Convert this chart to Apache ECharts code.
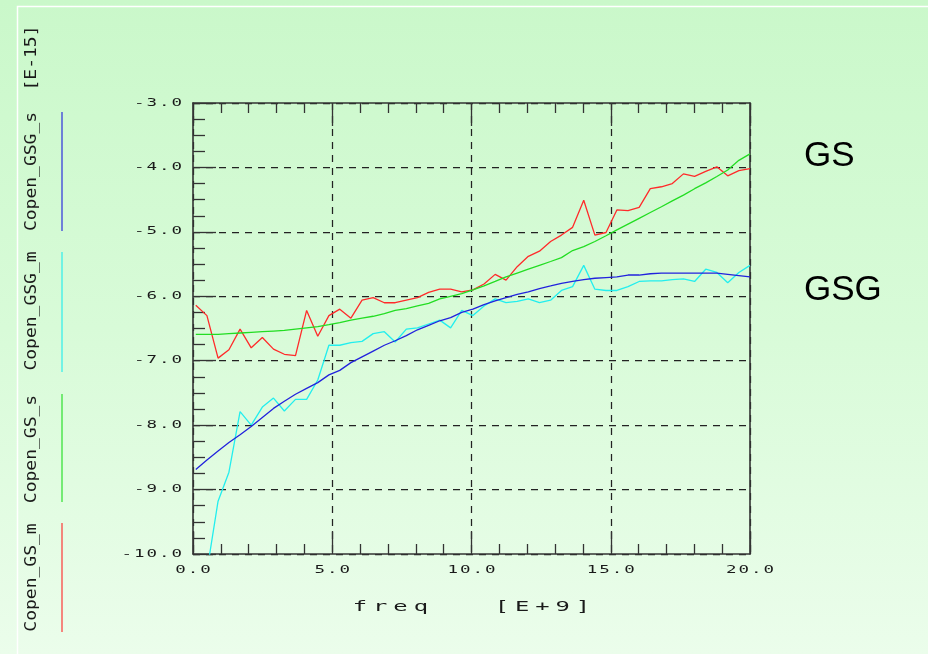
<!DOCTYPE html>
<html>
<head>
<meta charset="utf-8">
<script src="https://cdn.jsdelivr.net/npm/echarts@6/dist/echarts.min.js"></script>
<style>
  html, body { margin: 0; padding: 0; }
  #chart { width: 928px; height: 654px; background: linear-gradient(to bottom, #caf8ca 0%, #d8fbd8 50%, #ebfdeb 100%); }
</style>
</head>
<body>
<div id="chart"></div>
<script>
// ---------- data ----------
const freq = [0.10, 0.50, 0.90, 1.29, 1.69, 2.09, 2.49, 2.89, 3.28, 3.68,
  4.08, 4.48, 4.88, 5.27, 5.67, 6.07, 6.47, 6.87, 7.26, 7.66,
  8.06, 8.46, 8.86, 9.25, 9.65, 10.05, 10.45, 10.85, 11.24, 11.64,
  12.04, 12.44, 12.84, 13.23, 13.63, 14.03, 14.43, 14.83, 15.22, 15.62,
  16.02, 16.42, 16.82, 17.21, 17.61, 18.01, 18.41, 18.81, 19.20, 19.60, 20.00];

const copenGSm = [-6.14, -6.30, -6.96, -6.83, -6.51, -6.80, -6.64, -6.82, -6.90, -6.92,
  -6.22, -6.62, -6.30, -6.20, -6.34, -6.06, -6.02, -6.10, -6.10, -6.06,
  -6.02, -5.94, -5.89, -5.89, -5.93, -5.90, -5.81, -5.66, -5.75, -5.54,
  -5.38, -5.30, -5.15, -5.05, -4.93, -4.51, -5.05, -5.01, -4.66, -4.67,
  -4.62, -4.33, -4.30, -4.25, -4.10, -4.14, -4.06, -3.99, -4.13, -4.05, -4.02];

const copenGSs = [-6.59, -6.59, -6.59, -6.58, -6.57, -6.56, -6.55, -6.54, -6.53, -6.51,
  -6.49, -6.47, -6.44, -6.41, -6.37, -6.34, -6.31, -6.27, -6.22, -6.19,
  -6.15, -6.11, -6.04, -6.00, -5.96, -5.90, -5.84, -5.77, -5.70, -5.64,
  -5.58, -5.52, -5.46, -5.40, -5.29, -5.23, -5.15, -5.06, -4.97, -4.88,
  -4.79, -4.70, -4.61, -4.52, -4.43, -4.33, -4.24, -4.14, -4.04, -3.89, -3.79];

const copenGSGm = [-11.60, -10.27, -9.18, -8.73, -7.79, -8.00, -7.72, -7.58, -7.78, -7.60,
  -7.60, -7.30, -6.76, -6.76, -6.72, -6.70, -6.58, -6.55, -6.71, -6.51,
  -6.49, -6.43, -6.37, -6.49, -6.22, -6.30, -6.15, -6.04, -6.10, -6.08,
  -6.04, -6.10, -6.06, -5.91, -5.85, -5.52, -5.89, -5.91, -5.91, -5.85,
  -5.77, -5.76, -5.76, -5.74, -5.73, -5.77, -5.58, -5.63, -5.79, -5.63, -5.52];

const copenGSGs = [-8.69, -8.54, -8.40, -8.27, -8.15, -8.02, -7.88, -7.74, -7.63, -7.52,
  -7.43, -7.34, -7.22, -7.15, -7.03, -6.94, -6.85, -6.76, -6.69, -6.61,
  -6.52, -6.45, -6.38, -6.33, -6.25, -6.20, -6.13, -6.07, -6.02, -5.97,
  -5.93, -5.88, -5.84, -5.80, -5.77, -5.74, -5.72, -5.71, -5.70, -5.67,
  -5.67, -5.65, -5.64, -5.64, -5.64, -5.64, -5.64, -5.64, -5.66, -5.68, -5.70];

const seriesNames = ['Copen_GS_m', 'Copen_GS_s', 'Copen_GSG_m', 'Copen_GSG_s'];
const seriesColors = ['#ff2a2a', '#22dd22', '#22eeee', '#2222dd'];
const xAxisName = 'freq   [E+9]';
const yUnitLabel = '[E-15]';
const sideLabels = ['GS', 'GSG'];
const xMin = 0, xMax = 20, xInterval = 5;
const yMin = -10, yMax = -3, yInterval = 1;

// ---------- plotter-style wide text (horizontal stretch for the mono font) ----------
const STRETCH = { '10': { sx: 1.75, ls: 1.1 }, '14': { sx: 1.7, ls: 3.5 }, '15': { sx: 1.2, ls: 0 } };
(function () {
  const proto = CanvasRenderingContext2D.prototype;
  const orig = proto.fillText;
  proto.fillText = function (text, x, y, maxW) {
    const f = this.font || '';
    if (f.indexOf('DejaVu Sans Mono') >= 0) {
      const m = /(\d+(?:\.\d+)?)px/.exec(f);
      const cfg = m && STRETCH[String(Math.round(parseFloat(m[1])))];
      if (cfg) {
        this.save();
        this.translate(x, y);
        this.scale(cfg.sx, 1);
        let dx = 0;
        if (cfg.ls) {
          try { this.letterSpacing = cfg.ls + 'px'; } catch (e) {}
          const a = this.textAlign;
          if (a === 'right' || a === 'end') dx = cfg.ls;
          else if (a === 'center') dx = cfg.ls / 2;
        }
        orig.call(this, text, dx, 0);
        this.restore();
        return;
      }
    }
    return maxW === undefined ? orig.call(this, text, x, y) : orig.call(this, text, x, y, maxW);
  };
})();

const AX = '#333333';
const axisLineStyle = { color: AX, width: 1.6 };
const tickStyle = { color: AX, width: 1.3 };
const gridStyle = { color: '#222222', width: 1.25, type: [7, 6] };
const labelFont = { fontFamily: 'DejaVu Sans Mono', fontSize: 10, color: '#1a1a1a' };

const chart = echarts.init(document.getElementById('chart'), null, { renderer: 'canvas' });

const series = [copenGSm, copenGSs, copenGSGm, copenGSGs].map((vals, i) => ({
  name: seriesNames[i],
  type: 'line',
  xAxisIndex: 0,
  yAxisIndex: 0,
  data: freq.map((f, j) => [f, vals[j]]),
  showSymbol: false,
  symbol: 'none',
  clip: true,
  animation: false,
  lineStyle: { color: seriesColors[i], width: 1.3 },
  itemStyle: { color: seriesColors[i] },
  z: 3 + i
}));

// legend (vertical, rotated) drawn as graphic texts + colour strokes
const legendPos = [
  { c: 577.5, y1: 523, y2: 632 },
  { c: 449, y1: 394, y2: 502 },
  { c: 311, y1: 252, y2: 372 },
  { c: 171.5, y1: 112, y2: 231 }
];
const graphics = [
  { type: 'rect', left: 15, top: 4, z: 0, silent: true,
    shape: { x: 0.5, y: 0.5, width: 1000, height: 1000 },
    style: { fill: 'none', stroke: '#ffffff', lineWidth: 1.5 } },
  { type: 'text', x: 32, y: 58, rotation: Math.PI / 2, z: 10,
    style: { text: yUnitLabel, fontFamily: 'DejaVu Sans Mono', fontSize: 15, fill: '#1a1a1a', textAlign: 'center', textVerticalAlign: 'middle' } }
];
legendPos.forEach((p, i) => {
  graphics.push({ type: 'text', x: 32, y: p.c, rotation: Math.PI / 2, z: 10,
    style: { text: seriesNames[i], fontFamily: 'DejaVu Sans Mono', fontSize: 15, fill: '#1a1a1a', textAlign: 'center', textVerticalAlign: 'middle' } });
  graphics.push({ type: 'line', z: 10, silent: true,
    shape: { x1: 62, y1: p.y1, x2: 62, y2: p.y2 },
    style: { stroke: seriesColors[i], lineWidth: 1.5, opacity: 0.75 } });
});
graphics.push({ type: 'text', x: 804, y: 156, z: 10,
  style: { text: sideLabels[0], fontFamily: 'Liberation Sans', fontSize: 35, fill: '#000', textAlign: 'left', textVerticalAlign: 'middle' } });
graphics.push({ type: 'text', x: 804, y: 290, z: 10,
  style: { text: sideLabels[1], fontFamily: 'Liberation Sans', fontSize: 35, fill: '#000', textAlign: 'left', textVerticalAlign: 'middle' } });

chart.setOption({
  backgroundColor: 'transparent',
  animation: false,
  grid: { left: 193, right: 178, top: 103, bottom: 100, containLabel: false },
  xAxis: [
    {
      type: 'value', position: 'bottom', min: xMin, max: xMax, interval: xInterval,
      axisLine: { show: true, onZero: false, lineStyle: axisLineStyle },
      axisTick: { show: true, inside: true, length: 23, lineStyle: tickStyle },
      minorTick: { show: true, splitNumber: 5, length: 10, lineStyle: tickStyle },
      splitLine: { show: true, lineStyle: gridStyle },
      axisLabel: Object.assign({ margin: 11, formatter: v => v.toFixed(1) }, labelFont),
      name: xAxisName, nameLocation: 'middle', nameGap: 46,
      nameTextStyle: { fontFamily: 'DejaVu Sans Mono', fontSize: 14, color: '#1a1a1a' }
    },
    {
      type: 'value', position: 'top', min: xMin, max: xMax, interval: xInterval,
      axisLine: { show: true, onZero: false, lineStyle: axisLineStyle },
      axisTick: { show: true, inside: true, length: 23, lineStyle: tickStyle },
      minorTick: { show: true, splitNumber: 5, length: 10, lineStyle: tickStyle },
      splitLine: { show: false },
      axisLabel: { show: false }
    }
  ],
  yAxis: [
    {
      type: 'value', position: 'left', min: yMin, max: yMax, interval: yInterval,
      axisLine: { show: true, onZero: false, lineStyle: axisLineStyle },
      axisTick: { show: true, inside: true, length: 23, lineStyle: tickStyle },
      minorTick: { show: true, splitNumber: 4, length: 12, lineStyle: tickStyle },
      splitLine: { show: true, lineStyle: gridStyle },
      axisLabel: Object.assign({ margin: 11, formatter: v => v.toFixed(1) }, labelFont)
    },
    {
      type: 'value', position: 'right', min: yMin, max: yMax, interval: yInterval,
      axisLine: { show: true, onZero: false, lineStyle: axisLineStyle },
      axisTick: { show: false },
      splitLine: { show: false },
      axisLabel: { show: false }
    }
  ],
  series: series,
  graphic: graphics
});
</script>
</body>
</html>
